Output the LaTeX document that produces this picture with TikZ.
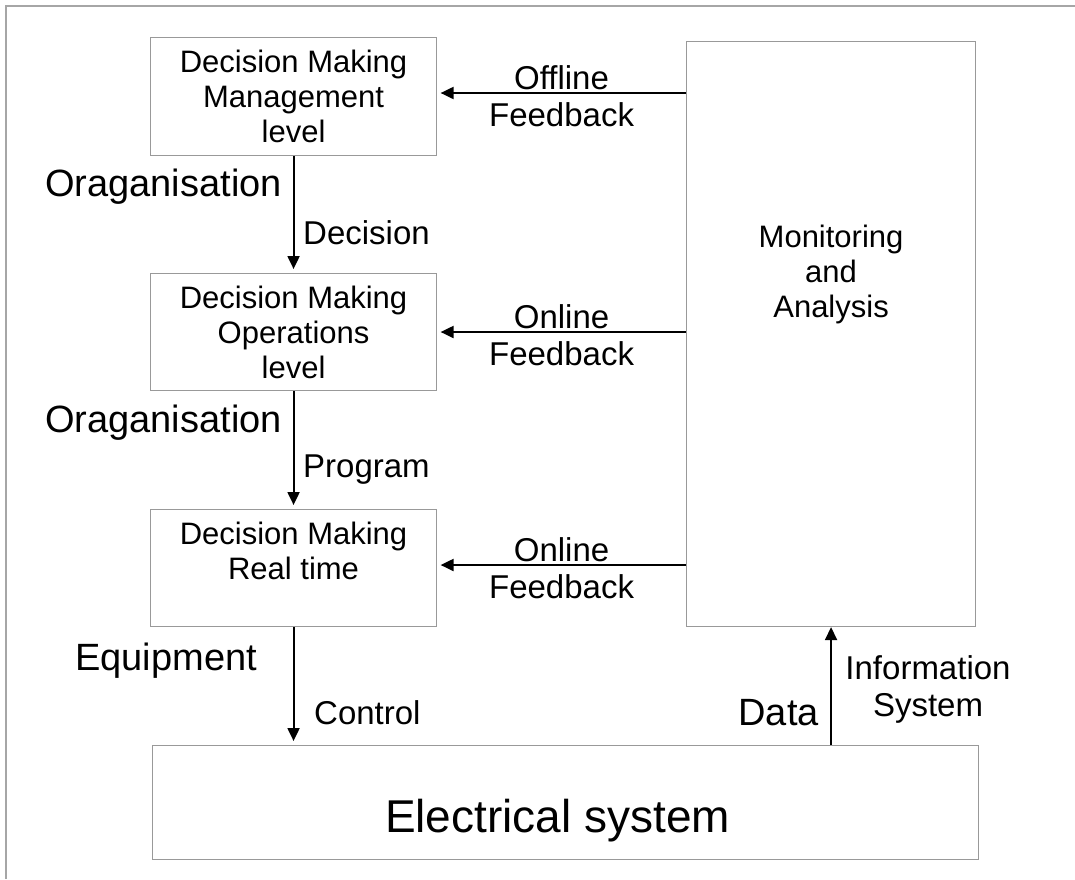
\documentclass[tikz,border=0pt]{standalone}
\usepackage{fontspec}
\setmainfont{Liberation Sans}
\usetikzlibrary{arrows.meta}

\begin{document}
\begin{tikzpicture}[x=1pt, y=-1pt]
       \tikzstyle{frame}=[draw=black!35, line width=1.2pt]
       \tikzstyle{box}=[draw=black!40, line width=1.1pt, anchor=north west, minimum width=286pt, minimum height=117pt, inner sep=0pt]
       \tikzstyle{boxtext}=[font=\fontsize{31}{35}\selectfont, align=center, inner sep=0pt, anchor=north]
       \tikzstyle{flow}=[draw, line width=2pt, -{Triangle[length=13pt, width=12pt]}]
       \tikzstyle{flowtext}=[font=\fontsize{33}{37}\selectfont, align=center, inner sep=0pt]
       \tikzstyle{sidetext}=[font=\fontsize{38}{42}\selectfont, inner sep=0pt]
       \useasboundingbox (0,0) rectangle (1075,879);
       \draw[frame] (6,879) -- (6,6) -- (1075,6);
       % decision levels
       \node[box, minimum height=118pt, label={[boxtext, yshift=-12.4pt]north:{Decision Making\\Management\\level}}] (mgmt) at (150,37) {};
       \node[box, label={[boxtext, yshift=-12.4pt]north:{Decision Making\\Operations\\level}}] (ops) at (150,273) {};
       \node[box, label={[boxtext, yshift=-12.4pt]north:{Decision Making\\Real time}}] (rt) at (150,509) {};
       \node[box, minimum width=289pt, minimum height=585pt, label={[boxtext, yshift=-183.4pt]north:{Monitoring\\and\\Analysis}}] (mon) at (686,41) {};
       \node[box, minimum width=826pt, minimum height=114pt, label={[font=\fontsize{46}{50}\selectfont, inner sep=0pt, anchor=base, xshift=-8pt, yshift=-18pt]center:{Electrical system}}] (elec) at (152,745) {};
       % top-down chain
       \draw[flow, shorten >=4pt] (mgmt) -- (ops);
       \draw[flow, shorten >=4pt] (ops) -- (rt);
       \draw[flow, shorten >=4pt] (rt) -- (rt |- elec.north);
       \draw[flow] (mon.south |- elec.north) -- (mon.south);
       % feedback from monitoring
       \draw[flow, shorten >=3.5pt] (mon.west |- 0,93) -- (mgmt.east |- 0,93) node[midway, flowtext, yshift=-3pt] (fb1) {Offline\\Feedback};
       \draw[flow, shorten >=3.5pt] (mon.west |- 0,332) -- (ops.east |- 0,332) node[midway, flowtext, yshift=-3pt] (fb2) {Online\\Feedback};
       \draw[flow, shorten >=3.5pt] (mon.west |- 0,565) -- (rt.east |- 0,565) node[midway, flowtext, yshift=-3pt] (fb3) {Online\\Feedback};
       % side labels
       \node[sidetext, anchor=base east] (org1) at (282,196) {Oraganisation};
       \node[flowtext, anchor=base west] (dec) at (303,244) {Decision};
       \node[sidetext, anchor=base east] (org2) at (282,432) {Oraganisation};
       \node[flowtext, anchor=base west] (prog) at (303,477) {Program};
       \node[sidetext, anchor=base west] (equip) at (75,670) {Equipment};
       \node[flowtext, anchor=base west] (ctrl) at (314,724) {Control};
       \node[sidetext, anchor=base east] (data) at (819,725) {Data};
       \node[flowtext, anchor=north] (info) at (928,655) {Information\\System};
\end{tikzpicture}
\end{document}
